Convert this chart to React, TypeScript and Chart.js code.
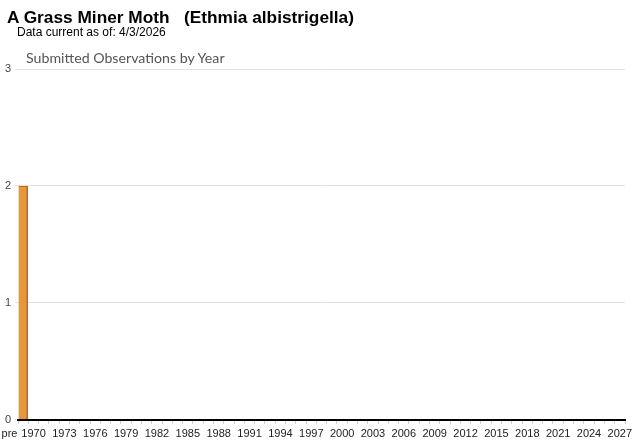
import React, { useEffect, useRef } from "react";
import { Chart, registerables } from "chart.js";

Chart.register(...registerables);

const titleText = "A Grass Miner Moth   (Ethmia albistrigella)";
const subtitleText = "Data current as of: 4/3/2026";
const chartTitle = "Submitted Observations by Year";

const firstYear = 1970;
const lastYear = 2027;
const categories: string[] = ["pre"];
for (let y = firstYear; y <= lastYear; y++) categories.push(String(y));

// observations per category: only "pre" has records
const observations: number[] = categories.map((c) => (c === "pre" ? 2 : 0));

const yTicks = [0, 1, 2, 3];

export default function App() {
  const ref = useRef<HTMLCanvasElement | null>(null);

  useEffect(() => {
    document.body.style.margin = "0";
    const canvas = ref.current;
    if (!canvas) return;
    const chart = new Chart(canvas, {
      type: "bar",
      data: {
        labels: categories,
        datasets: [
          {
            data: observations,
            backgroundColor: (ctx: any) => {
              const c = ctx.chart;
              const el = ctx.element;
              if (!el || el.x === undefined) return "#e8963a";
              const w = el.width || 10;
              const g = c.ctx.createLinearGradient(el.x - w / 2, 0, el.x + w / 2, 0);
              g.addColorStop(0, "#f6dcb8");
              g.addColorStop(0.2, "#f7d5a8");
              g.addColorStop(0.3, "#f0ad62");
              g.addColorStop(0.65, "#ea9a40");
              g.addColorStop(1, "#e38e30");
              return g;
            },
            borderColor: "#c26a12",
            borderWidth: { top: 1, right: 2, left: 0, bottom: 0 },
            borderSkipped: false,
            barPercentage: 0.95,
            categoryPercentage: 1,
          },
        ],
      },
      options: {
        animation: false,
        responsive: false,
        maintainAspectRatio: false,
        layout: { padding: { top: 69, left: 1, right: 15, bottom: 0 } },
        plugins: {
          legend: { display: false },
          tooltip: { enabled: false },
          title: { display: false },
        },
        scales: {
          x: {
            afterFit: (s: any) => {
              s.paddingLeft = 0;
            },
            grid: {
              display: true,
              drawOnChartArea: false,
              drawTicks: true,
              tickLength: 4,
              color: "#cccccc",
            },
            border: { display: true, color: "#000000", width: 2 },
            ticks: {
              autoSkip: false,
              maxRotation: 0,
              minRotation: 0,
              padding: 4,
              color: "#222222",
              font: { family: "Liberation Sans, Arial", size: 11 },
              callback: (_v: any, i: number) => {
                const lab = categories[i];
                if (lab === "pre") return "pre\u00a0\u00a0\u00a0\u00a0\u00a0\u00a0\u00a0\u00a0\u00a0";
                const n = Number(lab);
                return (n - firstYear) % 3 === 0 ? lab : "";
              },
            },
          },
          y: {
            min: yTicks[0],
            max: yTicks[yTicks.length - 1],
            afterBuildTicks: (axis: any) => {
              axis.ticks = yTicks.map((v) => ({ value: v }));
            },
            grid: {
              color: "#e3e3e3",
              drawTicks: true,
              tickLength: 3,
            },
            border: { display: false },
            ticks: {
              padding: 4,
              color: "#444444",
              font: { family: "Liberation Sans, Arial", size: 11 },
            },
          },
        },
      },
    });
    return () => chart.destroy();
  }, []);

  return (
    <div style={{ position: "absolute", left: 0, top: 0, width: 640, height: 442, background: "#fff", overflow: "hidden" }}>
      <canvas ref={ref} width={640} height={445} style={{ position: "absolute", left: 0, top: 0 }} />
      <div
        style={{
          position: "absolute",
          left: 7,
          top: 7,
          whiteSpace: "pre",
          fontFamily: "Liberation Sans, Arial, sans-serif",
          fontWeight: "bold",
          fontSize: 17.3,
          color: "#000",
          lineHeight: "20px",
        }}
      >
        {titleText}
      </div>
      <div
        style={{
          position: "absolute",
          left: 17,
          top: 25,
          whiteSpace: "pre",
          fontFamily: "Liberation Sans, Arial, sans-serif",
          fontSize: 12,
          color: "#000",
          lineHeight: "14px",
        }}
      >
        {subtitleText}
      </div>
      <div
        style={{
          position: "absolute",
          left: 26,
          top: 48,
          whiteSpace: "pre",
          fontFamily: "Lato, sans-serif",
          fontSize: 14.2,
          color: "#555",
          lineHeight: "20px",
        }}
      >
        {chartTitle}
      </div>
    </div>
  );
}
